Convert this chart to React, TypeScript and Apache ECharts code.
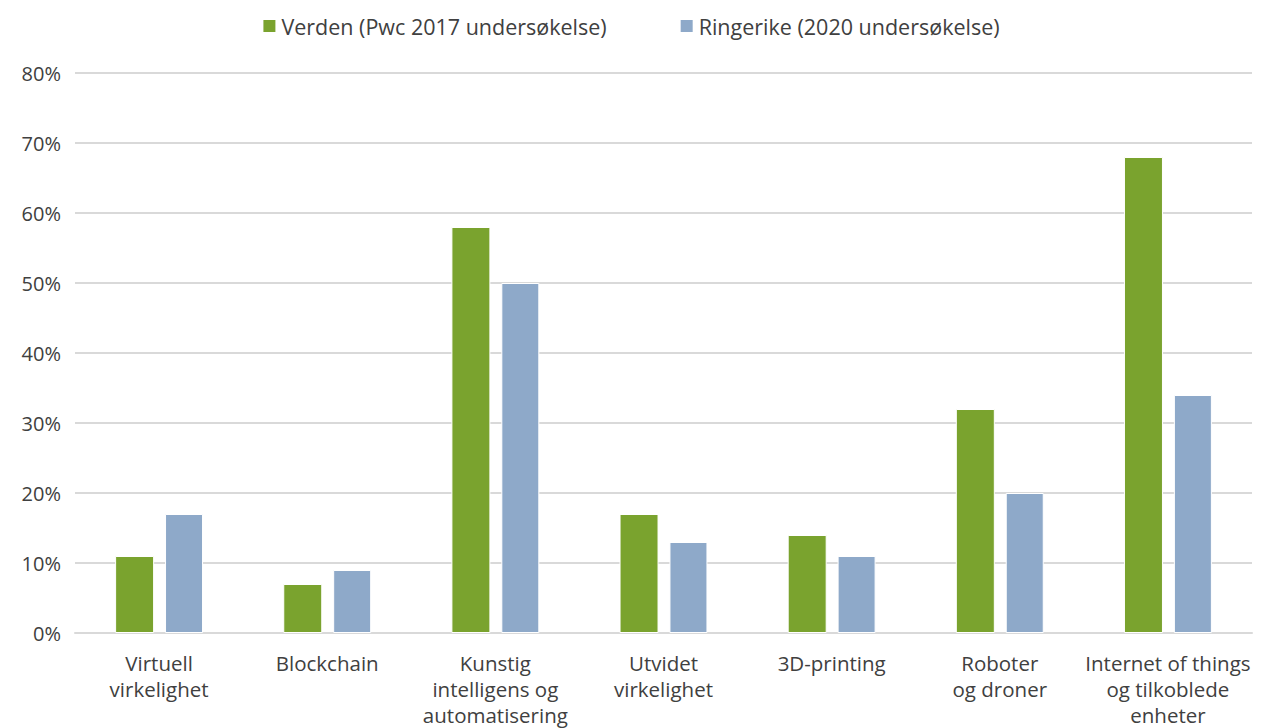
import React, { useEffect, useRef } from "react";
import * as echarts from "echarts";

const categories = [
  "Virtuell\nvirkelighet",
  "Blockchain",
  "Kunstig\nintelligens og\nautomatisering",
  "Utvidet\nvirkelighet",
  "3D-printing",
  "Roboter\nog droner",
  "Internet of things\nog tilkoblede\nenheter",
];
const seriesNames = ["Verden (Pwc 2017 undersøkelse)", "Ringerike (2020 undersøkelse)"];
const verden = [11, 7, 58, 17, 14, 32, 68];
const ringerike = [17, 9, 50, 13, 11, 20, 34];

const FONT = "'Open Sans', sans-serif";
const TEXT = "#404040";

export default function App() {
  const ref = useRef<HTMLDivElement>(null);
  useEffect(() => {
    const chart = echarts.init(ref.current!, null, { renderer: "svg" });
    chart.setOption({
      animation: false,
      textStyle: { fontFamily: FONT },
      legend: {
        top: 10,
        left: "center",
        itemWidth: 14,
        itemHeight: 14,
        itemGap: 72,
        icon: "rect",
        textStyle: { fontSize: 21.5, color: TEXT, fontFamily: FONT },
        data: seriesNames,
      },
      grid: { left: 75, right: 9, top: 73, bottom: 95 },
      xAxis: {
        type: "category",
        data: categories,
        axisLine: { lineStyle: { color: "#d9d9d9", width: 2 } },
        axisTick: { show: false },
        axisLabel: {
          fontSize: 20.5,
          color: TEXT,
          fontFamily: FONT,
          lineHeight: 26,
          margin: 17,
          interval: 0,
        },
      },
      yAxis: {
        type: "value",
        min: 0,
        max: 80,
        interval: 10,
        axisLine: { show: false },
        axisTick: { show: false },
        splitLine: { lineStyle: { color: "#d9d9d9", width: 2 } },
        axisLabel: {
          fontSize: 20,
          color: TEXT,
          fontFamily: FONT,
          margin: 14,
          formatter: "{value}%",
        },
      },
      series: [
        {
          name: seriesNames[0],
          type: "bar",
          data: verden,
          barWidth: 39,
          barGap: "28%",
          itemStyle: { color: "#7aa32e", borderColor: "#ffffff", borderWidth: 1 },
        },
        {
          name: seriesNames[1],
          type: "bar",
          data: ringerike,
          barWidth: 38,
          itemStyle: { color: "#8ea9c9", borderColor: "#ffffff", borderWidth: 1 },
        },
      ],
    });
    return () => chart.dispose();
  }, []);
  return <div ref={ref} style={{ width: 1261, height: 728, position: "absolute", left: 0, top: 0 }} />;
}
